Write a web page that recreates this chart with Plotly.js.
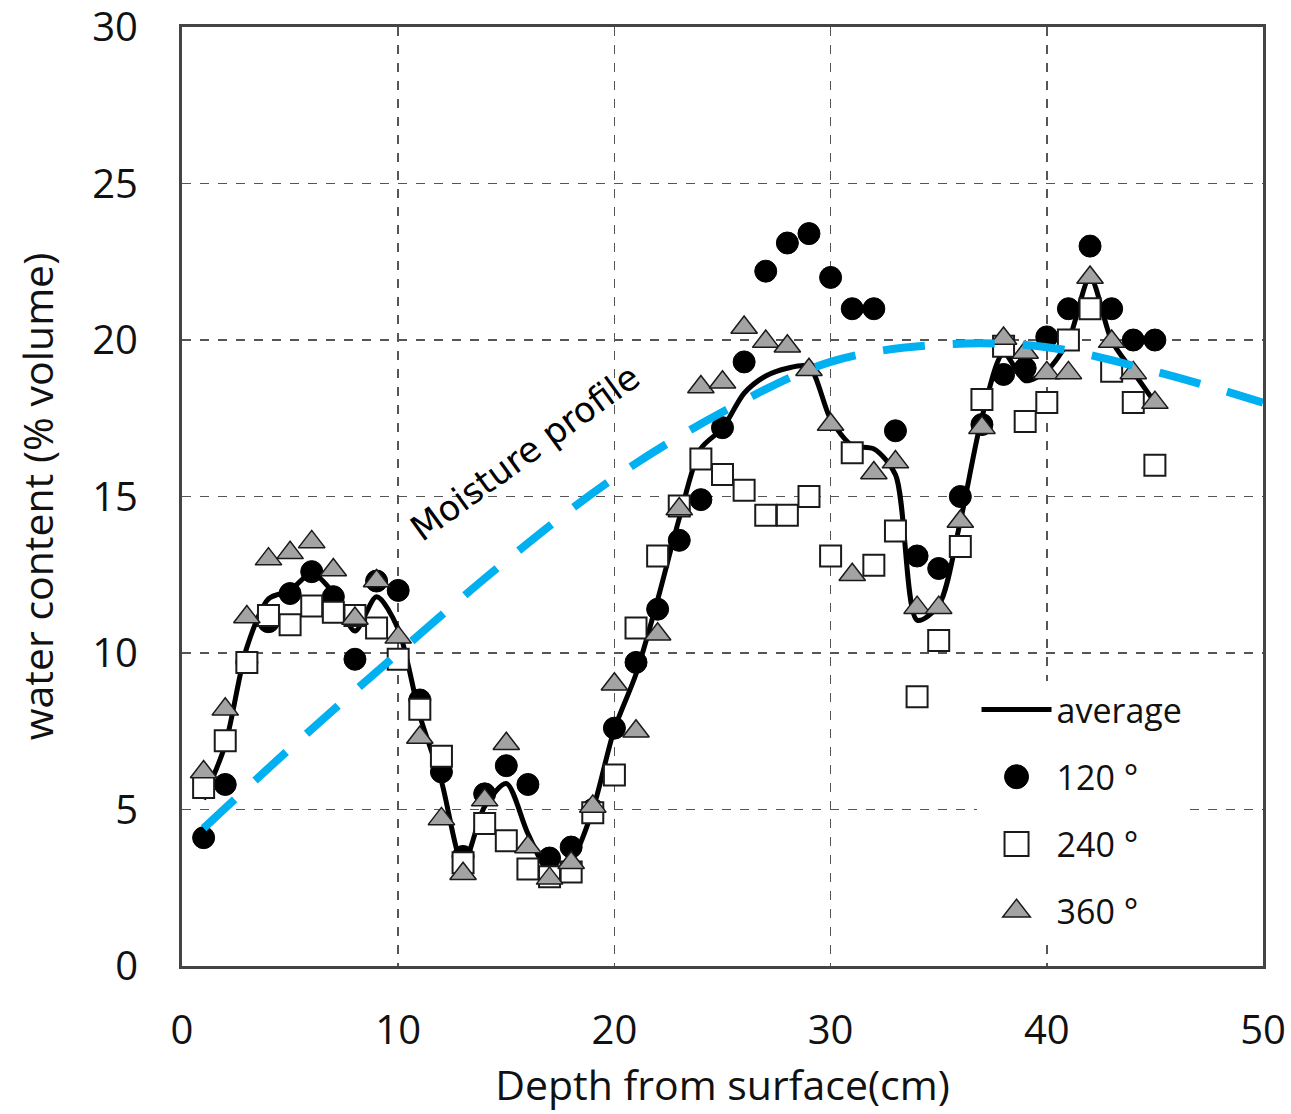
<!DOCTYPE html>
<html>
<head>
<meta charset="utf-8">
<script src="https://cdn.plot.ly/plotly-3.0.1.min.js"></script>
<style>html,body{margin:0;padding:0;background:#fff;}#chart{width:1291px;height:1114px;}</style>
</head>
<body>
<div id="chart"></div>
<script>
const depth = [1,2,3,4,5,6,7,8,9,10,11,12,13,14,15,16,17,18,19,20,21,22,23,24,25,26,27,28,29,30,31,32,33,34,35,36,37,38,39,40,41,42,43,44,45];
const deg120 = [4.1,5.8,9.7,11.0,11.9,12.6,11.8,9.8,12.3,12.0,8.5,6.2,3.5,5.5,6.4,5.8,3.45,3.8,5.0,7.6,9.7,11.4,13.6,14.9,17.2,19.3,22.2,23.1,23.4,22.0,21.0,21.0,17.1,13.1,12.7,15.0,17.3,18.9,19.1,20.1,21.0,23.0,21.0,20.0,20.0];
const deg240 = [5.7,7.2,9.7,11.2,10.9,11.5,11.3,11.2,10.8,9.8,8.2,6.7,3.3,4.55,4.0,3.1,2.85,3.0,4.9,6.1,10.8,13.1,14.7,16.2,15.7,15.2,14.4,14.4,15.0,13.1,16.4,12.8,13.9,8.6,10.4,13.4,18.1,19.8,17.4,18.0,20.0,21.0,19.0,18.0,16.0];
const deg360 = [6.2,8.2,11.15,13.0,13.2,13.55,12.65,11.1,12.3,10.5,7.3,4.7,2.95,5.3,7.1,3.8,2.8,3.3,5.1,9.0,7.5,10.6,14.6,18.5,18.65,20.4,19.95,19.8,19.05,17.3,12.5,15.75,16.1,11.45,11.45,14.2,17.2,20.05,19.6,18.95,18.95,22.0,19.95,18.95,18.0];
const average = [5.33,7.07,10.18,11.73,12.0,12.55,11.92,10.7,11.8,10.77,8.0,5.9,3.26,5.1,5.83,4.23,3.03,3.37,5.0,7.57,9.33,11.7,14.3,16.53,17.18,18.3,18.85,19.1,19.15,17.47,16.63,16.52,15.7,11.05,11.52,14.2,17.53,19.58,18.7,19.02,19.98,22.0,19.98,18.98,18.0];
const profileDepth = [1,5,10,15,20,25,30,35,40,45,50];
const profileValue = [4.4,6.95,10.0,12.95,15.6,17.7,19.3,19.85,19.77,19.0,18.0];
const seriesNames = ['average','120 °','240 °','360 °'];
const xTicks = [0,10,20,30,40,50];
const yTicks = [0,5,10,15,20,25,30];
const profileLabel = 'Moisture profile';
const labelPos = [15.86, 16.39];

const tickFont = {family:'Open Sans, sans-serif', size:40, color:'#111'};
const titleFont = {family:'Open Sans, sans-serif', size:41, color:'#111'};

const traces = [
  {x: depth, y: average, name: seriesNames[0], mode:'lines', type:'scatter',
   line:{color:'#000', width:5, shape:'spline', smoothing:0.8}, legendrank:1, legendgroup:'a'},
  {x: depth, y: deg120, name: seriesNames[1], mode:'markers', type:'scatter',
   marker:{symbol:'circle', size:22, color:'#000', line:{color:'#000', width:1}}, legendrank:2, legendgroup:'b'},
  {x: depth, y: deg240, name: seriesNames[2], mode:'markers', type:'scatter',
   marker:{symbol:'square', size:21, color:'#fff', line:{color:'#1a1a1a', width:2}}, legendrank:3, legendgroup:'c'},
  {x: depth, y: deg360, name: seriesNames[3], mode:'markers', type:'scatter',
   marker:{symbol:'triangle-up', size:23, color:'#a3a3a3', line:{color:'#1a1a1a', width:1.5}}, legendrank:4, legendgroup:'d'},
  {x: profileDepth, y: profileValue, name:'Moisture profile', mode:'lines', type:'scatter', showlegend:false,
   line:{color:'#00b0f0', width:8, shape:'spline', dash:'42px,28px'}}
];

const layout = {
  width:1291, height:1114,
  margin:{l:182, r:28, t:27, b:148},
  paper_bgcolor:'#fff', plot_bgcolor:'#fff',
  showlegend:true,
  xaxis:{range:[0,50], tickvals:xTicks, ticktext:xTicks.map(String), showgrid:true,
    gridcolor:'#555', griddash:'dash', gridwidth:1.5, zeroline:false,
    showline:true, linecolor:'#444', linewidth:3, mirror:true, ticks:'',
    tickfont:tickFont, ticklabelstandoff:27, ticklabeloverflow:'allow',
    title:{text:'Depth from surface(cm)', font:titleFont, standoff:4}},
  yaxis:{range:[0,30.001], tickvals:yTicks, ticktext:yTicks.map(String), showgrid:true,
    gridcolor:'#555', griddash:'dash', gridwidth:1.5, zeroline:false,
    showline:true, linecolor:'#444', linewidth:3, mirror:true, ticks:'',
    tickfont:tickFont, ticklabelstandoff:33, ticklabeloverflow:'allow',
    title:{text:'water content (% volume)', font:titleFont, standoff:26}},
  legend:{x:0.735, y:0.3036, xanchor:'left', yanchor:'top', bgcolor:'#fff', borderwidth:0,
    font:{family:'Open Sans, sans-serif', size:34, color:'#111'},
    itemwidth:70, tracegroupgap:20, traceorder:'grouped'},
  annotations:[{x:labelPos[0], y:labelPos[1], xref:'x', yref:'y', text:profileLabel, showarrow:false,
    textangle:-36, font:{family:'DejaVu Sans, sans-serif', size:35, color:'#000'}}]
};

Plotly.newPlot('chart', traces, layout, {displayModeBar:false, staticPlot:true}).then(function(gd){
  gd.querySelectorAll('.legend .legendpoints path.scatterpts').forEach(function(p){
    var t = p.getAttribute('transform') || '';
    p.setAttribute('transform', t + ' scale(1.5)');
    var sw = parseFloat(p.style.strokeWidth || '1');
    p.style.strokeWidth = (sw / 1.5) + 'px';
  });
});
</script>
</body>
</html>
